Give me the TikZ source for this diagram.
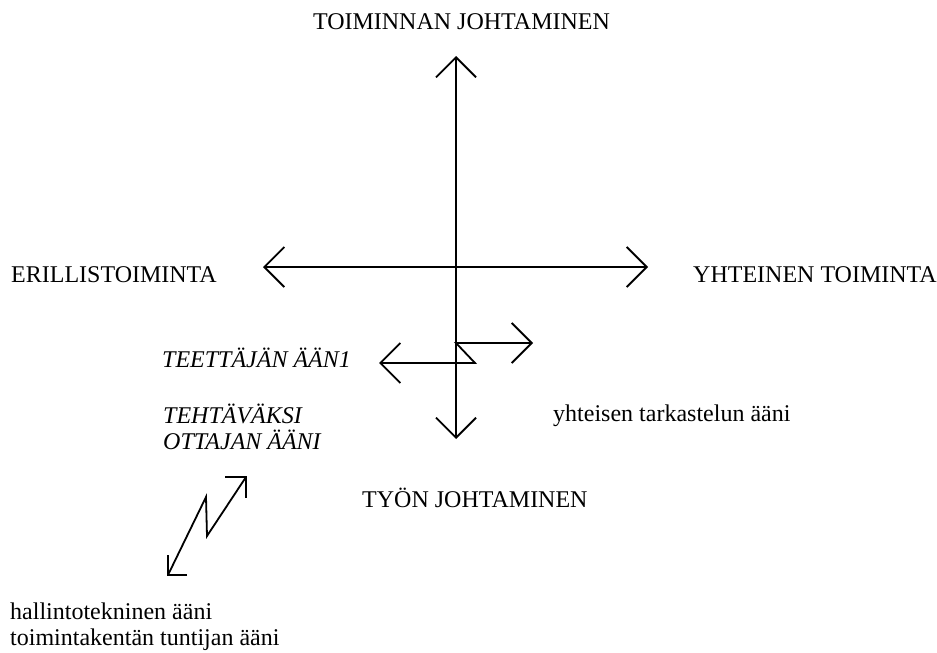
\documentclass[tikz,border=0pt]{standalone}
\usepackage{fontspec}
\setmainfont{Liberation Serif}
\usetikzlibrary{arrows.meta,calc}
\begin{document}
\begin{tikzpicture}[x=1pt,y=-1pt,
  axis/.style={line width=1.8pt, line join=miter, {Straight Barb[length=20pt,width=40pt,line width=1.8pt]}-{Straight Barb[length=20pt,width=40pt,line width=1.8pt]}},
  plain/.style={line width=1.8pt, line join=miter},
  lbl/.style={inner sep=0pt, anchor=base west, font=\fontsize{24}{26}\selectfont},
  ilbl/.style={lbl, font=\fontsize{24}{26}\selectfont\itshape}]
\useasboundingbox (0,0) rectangle (937,653);
% main axes
\coordinate (top) at (456,56);
\coordinate (bot) at (456,439);
\coordinate (left) at (263,267);
\coordinate (right) at (648,267);
\draw[axis] (top) -- (bot);
\draw[axis] (left) -- (right);
% small shifted arrows
\coordinate (r1) at (533,343);
\coordinate (c1) at (456,343);
\coordinate (k) at (475,363);
\coordinate (l1) at (379,363);
\draw[axis] (r1) -- (c1) -- (k) -- (l1);
% zigzag arrow
\coordinate (z0) at (168,575);
\coordinate (z1) at (206,497);
\coordinate (z2) at (207,536);
\coordinate (z3) at (246,477);
\draw[plain] (z0) -- (z1) -- (z2) -- (z3);
\draw[plain] ($(z0)+(19,0)$) -- (z0) -- ($(z0)+(0,-20)$);
\draw[plain] ($(z3)+(-21,0)$) -- (z3) -- ($(z3)+(0,21)$);
% labels
\node[lbl, anchor=base] (tj) at (461.5,29) {TOIMINNAN JOHTAMINEN};
\node[lbl] (er) at (11,282) {ERILLISTOIMINTA};
\node[lbl] (yt) at (693,282) {YHTEINEN TOIMINTA};
\node[ilbl] (te) at (162,367) {TEETTÄJÄN ÄÄN1};
\node[ilbl] (th1) at (163,423) {TEHTÄVÄKSI};
\node[ilbl] (th2) at (163,449) {OTTAJAN ÄÄNI};
\node[lbl] (yh) at (553,421) {yhteisen tarkastelun ääni};
\node[lbl] (ty) at (362,507) {TYÖN JOHTAMINEN};
\node[lbl] (ha1) at (10,619) {hallintotekninen ääni};
\node[lbl] (ha2) at (10,645) {toimintakentän tuntijan ääni};
\end{tikzpicture}
\end{document}
